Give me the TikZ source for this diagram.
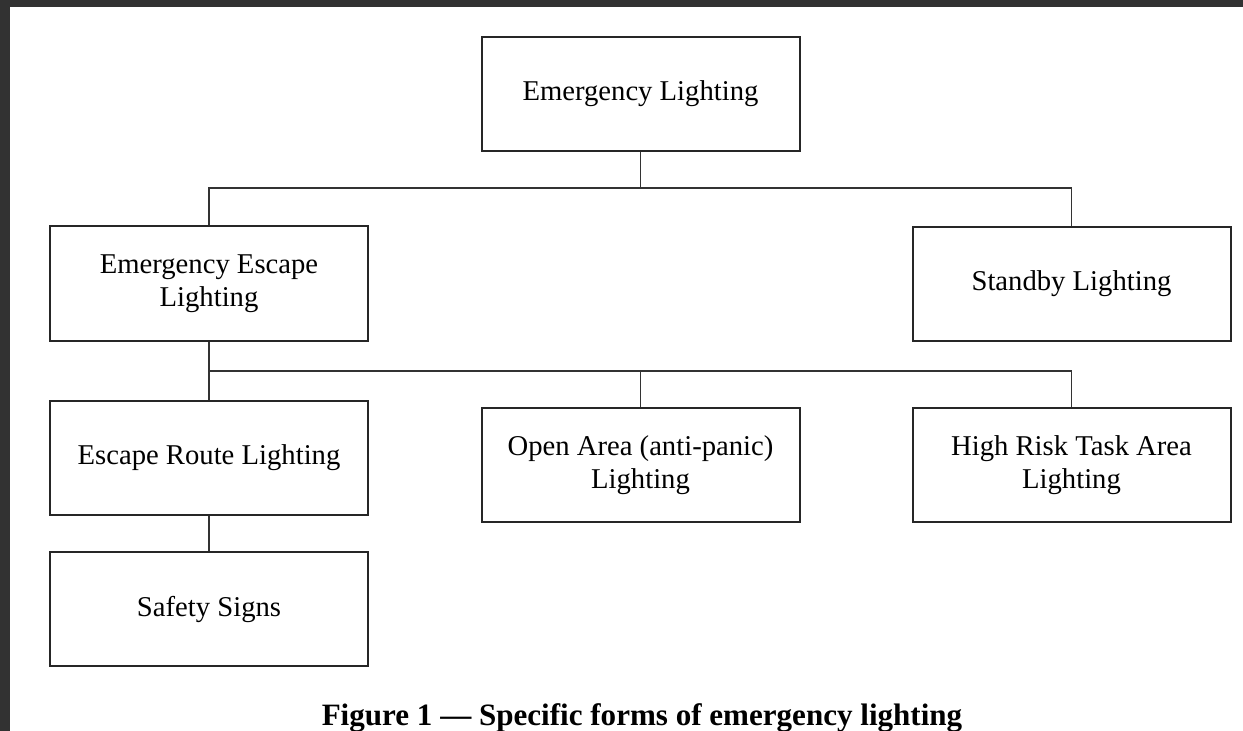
\documentclass[tikz,border=0pt]{standalone}
\usepackage{fontspec}
\setmainfont{Liberation Serif}
\usepackage{tikz}

\definecolor{framegray}{HTML}{323232}
\tikzset{
  box/.style={shape=rectangle,draw=black!85,line width=1.5pt,minimum width=238.5pt,
    minimum height=85.5pt,inner sep=0pt,align=center,font=\fontsize{21.5}{25}\selectfont},
  wire/.style={draw=black!80,line width=1pt}
}

\begin{document}
\begin{tikzpicture}[x=0.75pt,y=-0.75pt]
	\fill[framegray] (0,0) rectangle (1243,731);
	\fill[white] (10,7) rectangle (1243,731);
	\useasboundingbox (0,0) rectangle (1243,731);
	\node[box] (em)    at (640.5, 94)   {Emergency Lighting};
	\node[box] (eel)   at (209, 283.5)  {Emergency Escape\\Lighting};
	\node[box] (stand) at (1071.5, 284) {Standby Lighting};
	\node[box] (erl)   at (209, 458)    {Escape Route Lighting};
	\node[box] (open)  at (640.5, 465)  {Open Area (anti-panic)\\Lighting};
	\node[box] (risk)  at (1071.5, 465) {High Risk Task Area\\Lighting};
	\node[box] (safe)  at (209, 609)    {Safety Signs};
	\coordinate (bus1) at (640.5, 188);
	\coordinate (bus2) at (209, 371);
    \path[wire] (em.south) -- (bus1);
    \path[wire] (eel.north) |- (bus1);
    \path[wire] (stand.north) |- (bus1);
    \path[wire] (eel.south) -- (erl.north);
    \path[wire] (open.north) |- (bus2);
    \path[wire] (risk.north) |- (bus2);
    \path[wire] (erl.south) -- (safe.north);
	\node[anchor=base,inner sep=0pt,font=\fontsize{23.3}{27}\selectfont\bfseries] (cap) at (642, 725)
	    {Figure 1 — Specific forms of emergency lighting};
\end{tikzpicture}
\end{document}
